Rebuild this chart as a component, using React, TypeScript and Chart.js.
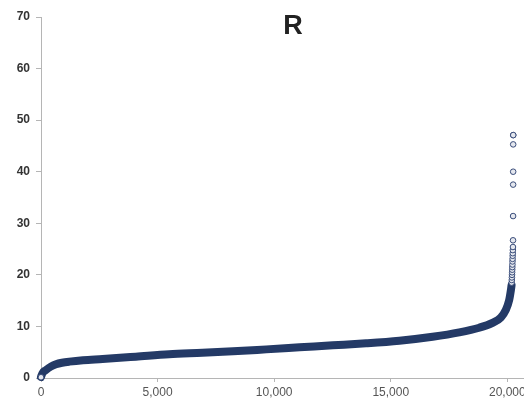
import React, { useEffect, useRef } from "react";
import { Chart, registerables } from "chart.js";

Chart.register(...registerables);

// ---- data ----
const TITLE = "R";
const X_TICKS = [0, 5000, 10000, 15000, 20000];
const X_MAX = 22000;
const Y_TICKS = [0, 10, 20, 30, 40, 50, 60, 70];

// Sorted values (dense band), sampled along the sorted index
const curveIndex = [0, 60, 214, 420, 642, 900, 1213, 1800, 2640, 4067, 5494, 6920, 8233, 9660, 11087, 12513, 13942, 15368, 16795, 17937, 18793, 19362, 19722, 19935, 20077, 20150, 20180];
const curveValue = [0.2, 0.9, 1.55, 2.2, 2.65, 2.95, 3.17, 3.45, 3.68, 4.13, 4.6, 4.88, 5.17, 5.55, 5.94, 6.33, 6.72, 7.23, 8.0, 8.85, 9.75, 10.7, 11.75, 13.2, 15.1, 17.0, 18.0];

// Individually visible markers (start point and upper tail)
const markerIndex = [0, 20185, 20190, 20195, 20200, 20204, 20208, 20212, 20216, 20220, 20224, 20228, 20232, 20236, 20240, 20243, 20246, 20248, 20249, 20250, 20251, 20252];
const markerValue = [0.15, 18.5, 19.0, 19.5, 20.0, 20.5, 21.0, 21.5, 22.0, 22.6, 23.1, 23.7, 24.2, 24.8, 25.4, 26.7, 31.4, 37.5, 40.0, 45.3, 47.1, 47.1];

const NAVY = "#243a66";
const FONT = '"Liberation Sans", Arial, Helvetica, sans-serif';

export default function App() {
  const ref = useRef<HTMLCanvasElement | null>(null);

  useEffect(() => {
    if (!ref.current) return;
    const titlePlugin = {
      id: "rtitle",
      afterDraw(chart: any) {
        const ctx = chart.ctx;
        ctx.save();
        ctx.font = `bold 27px ${FONT}`;
        ctx.fillStyle = "#222222";
        ctx.textAlign = "center";
        ctx.textBaseline = "alphabetic";
        ctx.fillText(TITLE, 293, 34);
        ctx.restore();
      },
    };

    const chart = new Chart(ref.current, {
      type: "scatter",
      data: {
        datasets: [
          {
            label: "tail",
            data: markerIndex.map((x, i) => ({ x, y: markerValue[i] })),
            pointRadius: 2.8,
            pointBorderWidth: 1,
            pointBorderColor: "#3a4d7a",
            pointBackgroundColor: "#e4e7ee",
            showLine: false,
            clip: false,
            order: 1,
          } as any,
          {
            label: "R",
            data: curveIndex.map((x, i) => ({ x, y: curveValue[i] })),
            showLine: true,
            borderColor: NAVY,
            borderWidth: 8,
            borderCapStyle: "round",
            borderJoinStyle: "round",
            cubicInterpolationMode: "monotone",
            pointRadius: 0,
            clip: false,
            order: 2,
          } as any,
        ],
      },
      options: {
        animation: false,
        responsive: false,
        maintainAspectRatio: false,
        layout: { padding: { top: 17, left: 0, right: 0, bottom: 0 } },
        plugins: {
          legend: { display: false },
          tooltip: { enabled: false },
          title: { display: false },
        },
        scales: {
          x: {
            type: "linear",
            position: "bottom",
            min: 0,
            max: X_MAX,
            afterBuildTicks: (s: any) => {
              s.ticks = X_TICKS.map((value) => ({ value }));
            },
            afterFit: (s: any) => {
              s.height = 22;
            },
            ticks: {
              padding: 3,
              color: "#555555",
              font: { family: FONT, size: 12 },
              maxRotation: 0,
              autoSkip: false,
              callback: (v: any) => Number(v).toLocaleString("en-US"),
            },
            grid: {
              drawOnChartArea: false,
              drawTicks: true,
              tickLength: 4,
              color: "#b5b5b5",
            },
            border: { display: true, color: "#b5b5b5", width: 1 },
          },
          y: {
            type: "linear",
            min: 0,
            max: Y_TICKS[Y_TICKS.length - 1],
            afterBuildTicks: (s: any) => {
              s.ticks = Y_TICKS.map((value) => ({ value }));
            },
            afterFit: (s: any) => {
              s.width = 41;
            },
            ticks: {
              padding: 6,
              color: "#333333",
              autoSkip: false,
              font: { family: FONT, size: 12, weight: "bold" },
            },
            grid: {
              drawOnChartArea: false,
              drawTicks: true,
              tickLength: 5,
              color: "#b5b5b5",
            },
            border: { display: true, color: "#b5b5b5", width: 1 },
          },
        },
      },
      plugins: [titlePlugin],
    });
    return () => chart.destroy();
  }, []);

  return (
    <div
      style={{
        position: "fixed",
        left: 0,
        top: 0,
        width: 524,
        height: 400,
        overflow: "hidden",
        background: "#ffffff",
      }}
    >
      <canvas ref={ref} width={559} height={400} style={{ width: 559, height: 400, display: "block" }} />
    </div>
  );
}
